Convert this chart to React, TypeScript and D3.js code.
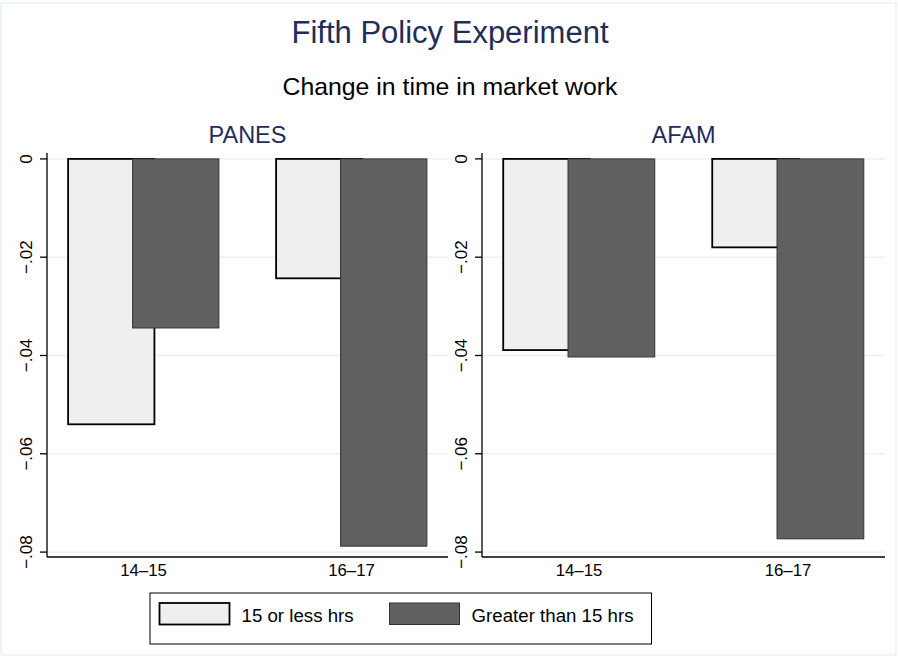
import React, { useEffect, useRef } from "react";
import * as d3 from "d3";

// values
const categories = ["14–15", "16–17"];
const panels = ["PANES", "AFAM"];
const panesLess = [-0.054, -0.0243];
const panesMore = [-0.0344, -0.0788];
const afamLess = [-0.0389, -0.018];
const afamMore = [-0.0403, -0.0773];
const yTicks = [0, -0.02, -0.04, -0.06, -0.08];
const yTickLabels = ["0", "−.02", "−.04", "−.06", "−.08"];
const seriesNames = ["15 or less hrs", "Greater than 15 hrs"];

const W = 898, H = 657;
const FONT = "'Liberation Sans', Arial, Helvetica, sans-serif";
const GRID = "#eaf2f3";
const NAVY = "#1e2d5c";
const LIGHT = "#efefef";
const DARK = "#606060";

export default function App() {
  const ref = useRef<SVGSVGElement>(null);

  useEffect(() => {
    const svg = d3.select(ref.current);
    svg.selectAll("*").remove();

    // outer frame
    svg.append("rect").attr("x", 1).attr("y", 3).attr("width", 895).attr("height", 652)
      .attr("fill", "white").attr("stroke", GRID).attr("stroke-width", 1.5);

    svg.append("text").attr("x", 450).attr("y", 43).attr("text-anchor", "middle")
      .attr("font-size", 31).attr("fill", NAVY).text("Fifth Policy Experiment");
    svg.append("text").attr("x", 450).attr("y", 95).attr("text-anchor", "middle")
      .attr("font-size", 24.8).attr("fill", "black").text("Change in time in market work");

    const y = d3.scaleLinear().domain([-0.081, 0.0012]).range([557, 153]);

    const panelX = [[47, 448], [482, 885]];
    const data = [[panesLess, panesMore], [afamLess, afamMore]];

    panels.forEach((name, pi) => {
      const [x0, x1] = panelX[pi];
      const g = svg.append("g");
      const x = d3.scalePoint<string>().domain(categories).range([x0, x1]).padding(0.464);
      const step = x.step();
      const bw = step * 0.415, shift = step * 0.155;

      // gridlines
      g.selectAll(".grid").data(yTicks).join("line")
        .attr("x1", x0).attr("x2", x1)
        .attr("y1", d => y(d)).attr("y2", d => y(d))
        .attr("stroke", GRID).attr("stroke-width", 1.5);

      g.append("text").attr("x", (x0 + x1) / 2).attr("y", 143).attr("text-anchor", "middle")
        .attr("font-size", 23.5).attr("fill", NAVY).text(name);

      const [less, more] = data[pi];
      // light bars first, dark bars overlap them
      g.selectAll(".less").data(less).join("rect")
        .attr("x", (d, i) => x(categories[i])! - shift - bw / 2)
        .attr("width", bw)
        .attr("y", y(0)).attr("height", d => y(d) - y(0))
        .attr("fill", LIGHT).attr("stroke", "black").attr("stroke-width", 1.8);
      g.selectAll(".more").data(more).join("rect")
        .attr("x", (d, i) => x(categories[i])! + shift - bw / 2)
        .attr("width", bw)
        .attr("y", y(0)).attr("height", d => y(d) - y(0))
        .attr("fill", DARK).attr("stroke", "#333").attr("stroke-width", 1);

      // axes
      g.append("line").attr("x1", x0).attr("x2", x0).attr("y1", 153).attr("y2", 557)
        .attr("stroke", "black").attr("stroke-width", 1.3);
      g.append("line").attr("x1", x0).attr("x2", x1).attr("y1", 557).attr("y2", 557)
        .attr("stroke", "black").attr("stroke-width", 1.3);
      g.selectAll(".tick").data(yTicks).join("line")
        .attr("x1", x0 - 7).attr("x2", x0)
        .attr("y1", d => y(d)).attr("y2", d => y(d))
        .attr("stroke", "black").attr("stroke-width", 1.3);
      g.selectAll(".ylab").data(yTicks).join("text")
        .attr("transform", (d) => `translate(${x0 - 15}, ${y(d)}) rotate(-90)`)
        .attr("text-anchor", "middle").attr("font-size", 17).attr("fill", "black")
        .text((d, i) => yTickLabels[i]);
      g.selectAll(".xlab").data(categories).join("text")
        .attr("x", d => x(d)!).attr("y", 576)
        .attr("text-anchor", "middle").attr("font-size", 16.8).attr("fill", "black")
        .text(d => d);
    });

    // legend
    const lg = svg.append("g");
    lg.append("rect").attr("x", 150).attr("y", 593).attr("width", 501.5).attr("height", 51)
      .attr("fill", "white").attr("stroke", "black").attr("stroke-width", 1);
    const keyX = [158.5, 388.5];
    const fills = [LIGHT, DARK];
    const strokes = ["black", "#333"];
    const sw = [1.8, 1];
    seriesNames.forEach((s, i) => {
      lg.append("rect").attr("x", keyX[i] + 1).attr("y", 603).attr("width", 70).attr("height", 21.5)
        .attr("fill", fills[i]).attr("stroke", strokes[i]).attr("stroke-width", sw[i]);
      lg.append("text").attr("x", keyX[i] + 83).attr("y", 621.5)
        .attr("font-size", 18.7).attr("fill", "black").text(s);
    });
  }, []);

  return (
    <svg ref={ref} width={W} height={H}
      style={{ position: "absolute", left: 0, top: 0, fontFamily: FONT, background: "white" }} />
  );
}
